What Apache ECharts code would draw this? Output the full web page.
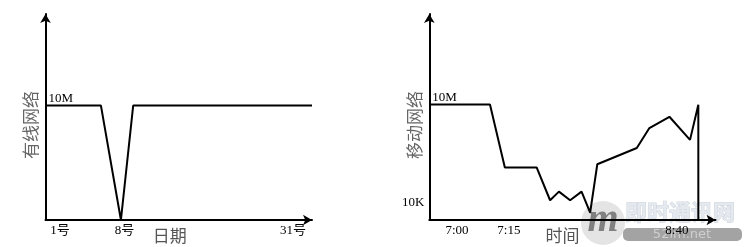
<!DOCTYPE html>
<html>
<head>
<meta charset="utf-8">
<script src="https://cdn.jsdelivr.net/npm/echarts@6/dist/echarts.min.js"></script>
<style>
html,body{margin:0;padding:0;background:#fff;}
#c{width:748px;height:247px;}
</style>
</head>
<body>
<div id="c"></div>
<script>
// ---- Left chart: wired network (schematic x positions along the date axis, 0..100) ----
const wiredX = [0, 20.8, 28.3, 32.9, 100];
const wiredY = [10, 10, 0, 10, 10];            // Mbps
const wiredTickPos = [5.4, 29.6, 92.9];
const wiredTickLabels = ['1号', '8号', '31号'];

// ---- Right chart: mobile network (schematic x positions along the time axis, 0..100) ----
const mobileX = [0, 21.2, 26.4, 37.5, 42.2, 45.3, 49.2, 53.2, 56.2, 58.7, 72.5, 76.9, 83.9, 91.1, 94.0, 94.0];
const mobileKbps = [10000, 10000, 120, 120, 12, 22, 12, 22, 5, 150, 470, 1900, 4200, 830, 9700, 3];
const mobileTickPos = [9.7, 27.8, 86.5];
const mobileTickLabels = ['7:00', '7:15', '8:40'];
const mobileMinKbps = 3;
const mobileMaxKbps = 5.7e6;

const serif = "'Liberation Serif', 'Noto Sans CJK SC', serif";
const cjk = "'Noto Sans CJK SC', sans-serif";

function pairs(xs, ys) { return xs.map((x, i) => [x, ys[i]]); }
const lg = v => Math.log10(v);

function arrowLine() {
  return {
    show: true,
    symbol: ['none', 'arrow'],
    symbolSize: [8, 9],
    lineStyle: { color: '#000', width: 2 }
  };
}
function lookup(pos, labels) {
  return v => {
    let best = 0, d = Infinity;
    pos.forEach((p, i) => { if (Math.abs(p - v) < d) { d = Math.abs(p - v); best = i; } });
    return labels[best];
  };
}

const chart = echarts.init(document.getElementById('c'), null, { renderer: 'canvas' });
chart.setOption({
  animation: false,
  backgroundColor: '#fff',
  grid: [
    { left: 45.5, top: 14, width: 266.5, bottom: 27, containLabel: false, outerBoundsMode: 'none' },
    { left: 429.3, top: 14, right: 32.5, bottom: 27, containLabel: false, outerBoundsMode: 'none' }
  ],
  xAxis: [
    {
      gridIndex: 0, type: 'value', min: 0, max: 100,
      axisLine: arrowLine(), axisTick: { show: false }, splitLine: { show: false },
      axisLabel: {
        customValues: wiredTickPos, formatter: lookup(wiredTickPos, wiredTickLabels),
        color: '#000', fontFamily: serif, fontSize: 13, margin: 4
      },
      name: '日期', nameLocation: 'middle', nameGap: 7, nameMoveOverlap: false,
      nameTextStyle: { color: '#555', fontFamily: cjk, fontSize: 17, padding: [0, 18, 0, 0], verticalAlign: 'top' }
    },
    {
      gridIndex: 1, type: 'value', min: 0, max: 100,
      axisLine: arrowLine(), axisTick: { show: false }, splitLine: { show: false },
      axisLabel: {
        customValues: mobileTickPos, formatter: lookup(mobileTickPos, mobileTickLabels),
        color: '#000', fontFamily: serif, fontSize: 13, margin: 4
      },
      name: '时间', nameLocation: 'middle', nameGap: 7, nameMoveOverlap: false,
      nameTextStyle: { color: '#555', fontFamily: cjk, fontSize: 17, padding: [0, 20, 0, 0], verticalAlign: 'top' }
    }
  ],
  yAxis: [
    {
      gridIndex: 0, type: 'value', min: 0, max: 18, position: 'left',
      axisLine: arrowLine(), axisTick: { show: false }, splitLine: { show: false },
      axisLabel: {
        customValues: [10], formatter: () => '10M', inside: true,
        verticalAlign: 'bottom', margin: 3, color: '#000', fontFamily: serif, fontSize: 13
      },
      name: '有线网络', nameLocation: 'middle', nameGap: 6, nameMoveOverlap: false,
      nameTextStyle: { color: '#666', fontFamily: cjk, fontSize: 17, padding: [0, 16, 0, 0] }
    },
    {
      gridIndex: 1, type: 'value', min: lg(mobileMinKbps), max: lg(mobileMaxKbps), position: 'left',
      axisLine: arrowLine(), axisTick: { show: false }, splitLine: { show: false },
      axisLabel: {
        customValues: [lg(10000)], formatter: () => '10M', inside: true,
        verticalAlign: 'bottom', margin: 3, color: '#000', fontFamily: serif, fontSize: 13
      },
      name: '移动网络', nameLocation: 'middle', nameGap: 6, nameMoveOverlap: false,
      nameTextStyle: { color: '#666', fontFamily: cjk, fontSize: 17, padding: [0, 16, 0, 0] }
    },
    {
      gridIndex: 1, type: 'value', min: lg(mobileMinKbps), max: lg(mobileMaxKbps), position: 'left',
      axisLine: { show: false }, axisTick: { show: false }, splitLine: { show: false },
      axisLabel: {
        customValues: [lg(10)], formatter: () => '10K',
        margin: 5, color: '#000', fontFamily: serif, fontSize: 13
      }
    }
  ],
  series: [
    {
      type: 'line', xAxisIndex: 0, yAxisIndex: 0, symbol: 'none',
      lineStyle: { color: '#000', width: 2 },
      data: pairs(wiredX, wiredY)
    },
    {
      type: 'line', xAxisIndex: 1, yAxisIndex: 1, symbol: 'none',
      lineStyle: { color: '#000', width: 2 },
      data: pairs(mobileX, mobileKbps.map(lg))
    }
  ],
  graphic: [
    { type: 'circle', z: -10, silent: true, shape: { cx: 603, cy: 223, r: 22 }, style: { fill: 'rgba(205,205,205,0.55)' } },
    { type: 'text', z: -9, silent: true, x: 603, y: 221,
      style: { text: 'm', font: 'italic bold 40px "Liberation Serif"', fill: 'rgba(95,95,95,0.75)', align: 'center', verticalAlign: 'middle' } },
    { type: 'text', z: -10, silent: true, x: 625, y: 201,
      style: { text: '即时通讯网', font: 'bold 22px "Noto Sans CJK SC"', fill: '#e4e8ef', stroke: '#cfd4dc', lineWidth: 1 } },
    { type: 'rect', z: -10, silent: true, shape: { x: 623, y: 228, width: 119, height: 13, r: 5 }, style: { fill: '#a3a3a3' } },
    { type: 'text', z: -9, silent: true, x: 682, y: 234.5,
      style: { text: '52im.net', font: '13px "DejaVu Sans"', fill: '#cfcfcf', align: 'center', verticalAlign: 'middle' } }
  ]
});
</script>
</body>
</html>
